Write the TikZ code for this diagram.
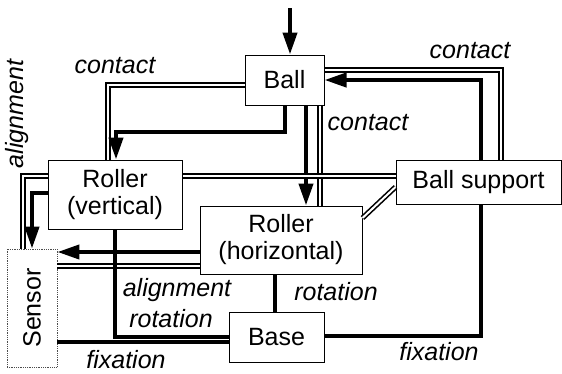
\documentclass[tikz,border=0pt]{standalone}
\usepackage{fontspec}
\setmainfont{Liberation Sans}
\usetikzlibrary{arrows.meta,calc}
\begin{document}
\begin{tikzpicture}[x=1pt,y=-1pt,
 box/.style={draw,line width=1pt,fill=white,inner sep=0pt,align=center,font=\fontsize{25}{27}\selectfont},
 thk/.style={line width=4pt},
 thkarrow/.style={line width=4pt,-{Triangle[length=22pt,width=14pt]}},
 dbl/.style={double,double distance=2pt,line width=1.6pt},
 lbl/.style={font=\fontsize{25}{27}\selectfont\itshape,inner sep=0pt}]
\useasboundingbox (0,0) rectangle (562,373);
% nodes
\node[box,minimum width=79pt,minimum height=50pt] (ball) at (284.5,80) {Ball};
\node[box,minimum width=134pt,minimum height=69pt] (rv) at (115,194.5) {Roller\\(vertical)};
\node[box,minimum width=162pt,minimum height=68pt] (rh) at (281,240) {Roller\\(horizontal)};
\node[box,minimum width=165pt,minimum height=44pt] (bs) at (478.5,182) {Ball support};
\node[box,minimum width=95pt,minimum height=50pt] (base) at (276.5,337) {Base};
\node[draw=black!70,densely dotted,line width=0.8pt,fill=white,minimum width=50pt,minimum height=118pt,inner sep=0pt] (sen) at (32,308) {};
\node[box,draw=none,fill=none,rotate=90] (sentext) at (sen.center) {Sensor};
% connectors
\coordinate (in) at (290,8);
\draw[thkarrow] (in) -- (in |- ball.north);
\draw[dbl] (ball.west |- 0,85) -| (rv.north -| 108,0);
\draw[thkarrow] (ball.south -| 285,0) -- (285,132) -| (rv.north -| 116,0);
\draw[thkarrow] (ball.south -| 306,0) -- (rh.north -| 306,0);
\draw[dbl] (ball.south -| 320,0) -- (rh.north -| 320,0);
\draw[dbl] (ball.east |- 0,70) -| (bs.north -| 501,0);
\draw[thkarrow] (bs.north -| 481,0) |- (ball.east |- 0,80);
\draw[dbl] (bs.west |- 0,176) -- (rv.east |- 0,176);
\draw[dbl] (rv.west |- 0,176) -| (sen.north -| 23,0);
\draw[thkarrow] (rv.west |- 0,193) -| (sen.north -| 32,0);
\draw[dbl] (bs.west |- 0,187) -- (rh.east |- 0,218);
\draw[thkarrow] (rh.west |- 0,252) -- (sen.east |- 0,252);
\draw[dbl] (rh.west |- 0,266) -- (sen.east |- 0,266);
\draw[thk] (rv.south -| 115,0) |- (base.west |- 0,337);
\draw[thk] (sen.east |- 0,342) -- (base.west |- 0,342);
\draw[thk] (rh.south -| 275,0) -- (base.north -| 275,0);
\draw[thk] (base.east |- 0,336) -| (bs.south -| 481,0);
% labels
\node[lbl] (l1) at (115,66) {contact};
\node[lbl,rotate=90] (l2) at (17.5,114) {alignment};
\node[lbl] (l3) at (470,51) {contact};
\node[lbl] (l4) at (368,123) {contact};
\node[lbl] (l5) at (177,290) {alignment};
\node[lbl] (l6) at (171,319) {rotation};
\node[lbl] (l7) at (126,360) {fixation};
\node[lbl] (l8) at (336,292) {rotation};
\node[lbl] (l9) at (439,352) {fixation};
\end{tikzpicture}
\end{document}
